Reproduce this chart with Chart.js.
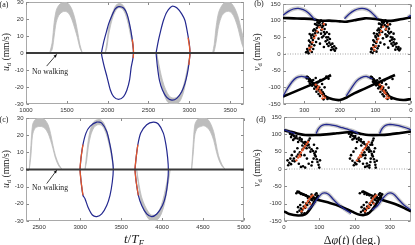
<!DOCTYPE html>
<html>
<head>
<meta charset="utf-8">
<script src="https://cdn.jsdelivr.net/npm/chart.js@4.4.0/dist/chart.umd.min.js"></script>
<style>
  html, body { margin: 0; padding: 0; background: #fff; }
  #wrap { position: relative; width: 415px; height: 245px; overflow: hidden; font-family: 'Liberation Serif', serif; color: #222; }
  #wrap canvas { position: absolute; left: 0; top: 0; }
  .lbl { position: absolute; white-space: nowrap; line-height: 1; transform: translate(-50%, -50%); }
  .rot { transform: translate(-50%, -50%) rotate(-90deg); }
  .sub { font-size: 70%; vertical-align: -0.3em; }
</style>
</head>
<body>
<div id="wrap">
  <canvas id="ca" width="415" height="245"></canvas>
  <canvas id="cb" width="415" height="245"></canvas>
  <canvas id="cc" width="415" height="245"></canvas>
  <canvas id="cd" width="415" height="245"></canvas>

  <div class="lbl" style="left:4px;top:5px;font-size:8px">(a)</div>
  <div class="lbl" style="left:259px;top:4px;font-size:8px">(b)</div>
  <div class="lbl" style="left:4px;top:120px;font-size:8px">(c)</div>
  <div class="lbl" style="left:261px;top:120px;font-size:8px">(d)</div>

  <div class="lbl rot" style="left:7px;top:52px;font-size:9.5px"><i>u</i><span class="sub">d</span> (mm/s)</div>
  <div class="lbl rot" style="left:7px;top:169px;font-size:9.5px"><i>u</i><span class="sub">d</span> (mm/s)</div>
  <div class="lbl rot" style="left:258px;top:52px;font-size:9.5px"><i>v</i><span class="sub">d</span> (mm/s)</div>
  <div class="lbl rot" style="left:258px;top:168px;font-size:9.5px"><i>v</i><span class="sub">d</span> (mm/s)</div>

  <div class="lbl" style="left:50px;top:72px;font-size:7.7px">No walking</div>
  <div class="lbl" style="left:50px;top:188px;font-size:7.7px">No walking</div>

  <div class="lbl" style="left:134px;top:240px;font-size:13px"><i>t</i>/<i>T</i><span class="sub"><i>F</i></span></div>
  <div class="lbl" style="left:352px;top:240px;font-size:12px">&Delta;<i>&phi;</i>(<i>t</i>)&thinsp;(deg.)</div>
</div>

<script>
// ================= pannello (a) : u_d contro t/T_F =================
var aRangeT = [1000, 3670];
var aTicks = [1000, 1500, 2000, 2500, 3000, 3500];
var uRange = [-30, 30];
var uTicks = [-30, -20, -10, 0, 10, 20, 30];
var aZeroT = [1000, 3670], aZeroU = [0, 0];

var aLoop1T = [1923, 1951, 1984, 2012, 2053, 2093, 2134, 2195, 2236, 2268, 2297, 2316, 2309, 2289, 2268, 2236, 2195, 2134, 2073, 2033, 1992, 1959, 1931, 1923];
var aLoop1U = [0, 6.4, 12.3, 17.1, 22, 25.9, 27.3, 26.5, 23, 17.1, 9.4, 1, -3.3, -8.2, -16, -21.8, -25.7, -27.3, -25.7, -21.8, -14, -8.2, -2.3, 0];
var aOrange1T = [2302, 2312, 2317, 2313];
var aOrange1U = [8, 4, 0, -3];

var aLoop2T = [2593, 2622, 2650, 2683, 2724, 2790, 2850, 2907, 2947, 2980, 3000, 3008, 2996, 2976, 2947, 2907, 2846, 2785, 2724, 2671, 2634, 2610, 2593];
var aLoop2U = [0, 7.4, 13.2, 19.1, 24, 27.5, 26.5, 23, 19.1, 11.3, 5.5, 0, -6.2, -12.1, -17.9, -22.8, -26.7, -27.7, -26.1, -21.8, -16, -8.2, 0];
var aOrange2T = [2985, 3002, 3008, 3001, 2994];
var aOrange2U = [9, 4, 0, -4, -7];

// bande grigie (bordo alto / bordo basso)
var aBand1T = [1290, 1320, 1345, 1370, 1400, 1440, 1480, 1520, 1560, 1600, 1630, 1660, 1690];
var aBand1Hi = [0, 6, 18, 25, 28, 29.5, 30, 29, 26, 20, 13, 5, 0];
var aBand1Lo = [0, 2, 10, 18, 22, 24, 24.5, 23.5, 20, 14, 9, 3, 0];
var aBand2T = [1970, 1990, 2010, 2040, 2070, 2100, 2130, 2160, 2190, 2220, 2250, 2280, 2300, 2315];
var aBand2Hi = [0, 6, 14, 21, 25, 28, 29, 29, 28, 25.5, 21, 14, 9, 4];
var aBand2Lo = [0, 3, 10, 17, 22, 25, 26.5, 26.5, 25.5, 22.5, 17.5, 10.5, 6, 2];
var aBand3T = [2600, 2625, 2655, 2690, 2730, 2770, 2810, 2850, 2890, 2930, 2960, 2985, 3000, 3015];
var aBand3Hi = [0, -6, -13, -19, -23.5, -26, -26.5, -26, -24, -19, -13, -7, -3, 0];
var aBand3Lo = [0, -9, -17, -24, -28.5, -30, -30, -30, -28, -23, -16, -9, -4, 0];
var aBand4T = [3285, 3305, 3330, 3360, 3400, 3440, 3480, 3520, 3560, 3600, 3640, 3670];
var aBand4Hi = [0, 5, 16, 24, 28, 30, 30, 29, 26, 21, 13, 8];
var aBand4Lo = [0, 1, 7, 16, 22, 24, 24.5, 23.5, 20, 14, 6, 2];
var aArrowT = [1253, 1376], aArrowU = [-7.7, -0.8];

// ================= pannello (c) =================
var cRangeT = [2340, 5000];
var cTicks = [2500, 3000, 3500, 4000, 4500, 5000];
var cZeroT = [2340, 5000], cZeroU = [0, 0];

var cLoop1T = [2999, 3012, 3035, 3072, 3121, 3203, 3264, 3325, 3365, 3393, 3405, 3393, 3365, 3325, 3264, 3203, 3150, 3097, 3060, 3035, 3012, 2999];
var cLoop1U = [0, 7, 14.5, 21.2, 25.1, 27.6, 27, 22.1, 14.3, 6.5, 0, -7.3, -15.1, -21, -25.9, -27.4, -26.5, -22, -17, -15, -7, 0];
var cOrange1T = [3035, 3012, 2999, 3012, 3035];
var cOrange1U = [14.5, 7, 0, -7, -15];

var cLoop2T = [3670, 3684, 3705, 3740, 3813, 3894, 3955, 4016, 4048, 4069, 4077, 4069, 4045, 4005, 3936, 3873, 3813, 3752, 3711, 3684, 3670];
var cLoop2U = [0, 7, 14.5, 21.2, 26.1, 27.6, 26.5, 21.2, 14.3, 6.5, 0, -7.3, -15.1, -21, -25.9, -27.4, -25.9, -21, -15.1, -7, 0];
var cOrange2T = [3705, 3684, 3670, 3684, 3711];
var cOrange2U = [14.5, 7, 0, -7, -15.1];

var cBand1T = [2380, 2400, 2420, 2450, 2490, 2530, 2570, 2610, 2640, 2670, 2700, 2740, 2780];
var cBand1Hi = [0, 14, 26, 29, 30, 30, 29, 26, 21, 14, 8, 3, 0];
var cBand1Lo = [0, 8, 20, 24, 25, 25, 24, 21, 17, 12, 6.5, 2, 0];
var cBand2T = [3060, 3080, 3100, 3130, 3170, 3210, 3250, 3290, 3330, 3370, 3395, 3408];
var cBand2Hi = [0, 9, 17, 24, 28, 29, 29, 27, 22, 14, 6, 0];
var cBand2Lo = [0, 5, 13, 20, 24.5, 26, 26, 24, 19, 11, 4, 0];
var cBand3T = [3690, 3720, 3750, 3790, 3830, 3870, 3910, 3950, 3990, 4030, 4060, 4085, 4100];
var cBand3Hi = [0, -9, -16, -21, -24.5, -26.5, -26.5, -25, -21, -14, -7, -2, 0];
var cBand3Lo = [0, -12, -20, -25, -28.5, -30, -30, -29, -26, -20, -12, -5, 0];
var cBand4T = [4360, 4380, 4400, 4430, 4470, 4510, 4550, 4590, 4630, 4660, 4690, 4730, 4770];
var cBand4Hi = [0, 15, 26, 29, 30, 30, 29.5, 27, 22, 15, 8, 3, 0];
var cBand4Lo = [0, 9, 20, 24, 25, 25.5, 24.5, 22, 17, 11, 6, 2, 0];
var cArrowT = [2593, 2715], cArrowU = [-8.2, -0.4];

// ================= pannelli (b) e (d) : v_d contro delta phi =================
var phiRange = [0, 360];
var phiTicks = [0, 100, 200, 300];
var vRange = [-150, 150];
var vTicks = [-150, -100, -50, 0, 50, 100, 150];
var phiZeroX = [0, 360], phiZeroY = [0, 0];

// (b) - asse x invertito
var bUpBlackX = [360, 330, 300, 275, 255, 230, 200, 180, 160, 130, 100, 75, 50, 20, 0];
var bUpBlackY = [108, 107, 106, 104, 100, 100, 98, 97, 101, 107, 105, 100, 100, 106, 110];
var bLowAX = [360, 320, 280, 250, 225];
var bLowAY = [-128, -110, -92, -78, -63];
var bLowBX = [295, 275, 258, 240, 220, 200, 180, 160, 130, 100, 70, 45];
var bLowBY = [-66, -88, -110, -128, -136, -138, -130, -118, -104, -89, -75, -63];
var bLowCX = [115, 95, 78, 60, 40, 20, 0];
var bLowCY = [-66, -88, -110, -128, -136, -138, -135];

var bBlueUp1X = [360, 345, 331, 317, 303, 289, 275, 268];
var bBlueUp1Y = [116, 128, 135, 137, 133, 124, 108, 101];
var bBlueUp2X = [187, 173, 159, 145, 131, 117, 103, 94];
var bBlueUp2Y = [106, 121, 131, 136, 136, 130, 116, 106];
var bBlueUp3X = [8, 0];
var bBlueUp3Y = [111, 116];
var bBlueLow1X = [360, 350, 335, 322, 308, 298, 288];
var bBlueLow1Y = [-128, -108, -84, -71, -67, -69, -72];
var bBlueLow2X = [182, 168, 154, 140, 126, 117, 108];
var bBlueLow2Y = [-126, -103, -82, -71, -67, -71, -74];

var bBlackDots = [
  [288, 2], [285, 12], [291, 8], [282, 20], [286, 25], [279, 30], [283, 35], [276, 42], [280, 48], [273, 52],
  [277, 58], [270, 62], [268, 70], [272, 74], [265, 78], [262, 85], [266, 88], [259, 92], [256, 97], [253, 100],
  [258, 94], [255, 86], [250, 80], [252, 72], [245, 66], [242, 60], [246, 54], [238, 50], [235, 42], [240, 38],
  [230, 34], [226, 28], [232, 24], [222, 20], [218, 14], [214, 10], [225, 12], [236, 30], [270, 90], [248, 92],
  [262, 65], [250, 50], [275, 15], [295, 5], [230, 60], [285, 60], [240, 88],
  [292, 15], [287, 40], [281, 55], [275, 70], [263, 95], [247, 85], [243, 75], [237, 65], [233, 50], [228, 45],
  [221, 31], [216, 23], [211, 17], [253, 61], [260, 46], [267, 36], [272, 26], [279, 6], [256, 31], [245, 21],
  [108, 3], [104, 10], [111, 14], [101, 22], [106, 27], [98, 33], [103, 37], [95, 44], [99, 50], [92, 55],
  [96, 60], [89, 64], [87, 71], [91, 76], [84, 80], [81, 86], [85, 89], [78, 93], [75, 98], [72, 101],
  [77, 95], [74, 87], [69, 82], [71, 73], [64, 67], [61, 62], [66, 55], [57, 51], [54, 43], [59, 39],
  [49, 35], [45, 29], [51, 25], [41, 21], [37, 15], [33, 11], [44, 13], [55, 31], [90, 91], [67, 93],
  [81, 66], [69, 52], [94, 17], [113, 6], [49, 61], [104, 62], [59, 89],
  [111, 17], [106, 41], [100, 54], [94, 71], [82, 96], [66, 84], [62, 76], [56, 66], [52, 49], [47, 44],
  [41, 32], [35, 21], [30, 16], [72, 59], [79, 47], [86, 34], [91, 24], [97, 7], [75, 29], [64, 19],
  [290, -70], [285, -75], [280, -80], [275, -78], [270, -90], [265, -95], [262, -85], [258, -100], [252, -108], [248, -115],
  [245, -120], [268, -72], [255, -78], [250, -90], [243, -100], [238, -68], [232, -74], [278, -95], [284, -88], [260, -120],
  [240, -128], [235, -135], [272, -104], [266, -113], [256, -126], [246, -136], [287, -82], [293, -73],
  [110, -70], [105, -76], [100, -81], [95, -79], [90, -91], [85, -96], [82, -86], [78, -101], [72, -109], [68, -116],
  [65, -121], [88, -73], [75, -79], [70, -91], [63, -101], [58, -69], [52, -75], [98, -94], [104, -87], [80, -121],
  [60, -129], [55, -134], [92, -103], [86, -114], [76, -127], [66, -135], [107, -83], [113, -72]
];
var bOrangeDots = [
  [283, 10], [280, 22], [277, 35], [272, 48], [268, 56], [264, 68], [258, 80], [250, 74], [245, 90], [286, 18],
  [103, 12], [99, 24], [96, 37], [92, 46], [87, 58], [84, 69], [78, 82], [70, 75], [65, 88], [106, 20],
  [268, -92], [262, -102], [257, -110], [252, -118], [247, -125], [242, -131], [255, -114], [260, -97], [265, -106], [249, -133],
  [88, -92], [82, -102], [77, -110], [72, -118], [67, -125], [62, -131], [75, -114], [80, -97], [85, -106], [69, -133]
];

// (d)
var dUpBlackX = [0, 15, 35, 60, 90, 120, 150, 180, 195, 215, 240, 270, 300, 330, 360];
var dUpBlackY = [112, 108, 103, 98, 98, 100, 103, 106, 106, 102, 98, 98, 100, 104, 108];
var dLowAX = [0, 15, 40, 60, 72, 82, 90, 97];
var dLowAY = [-122, -130, -134, -131, -118, -102, -88, -74];
var dLowBX = [35, 70, 100, 130, 160, 193, 215, 235, 250, 262, 272, 280];
var dLowBY = [-64, -80, -90, -98, -108, -123, -132, -131, -118, -100, -82, -70];
var dLowCX = [222, 260, 290, 320, 345, 360];
var dLowCY = [-64, -82, -93, -103, -115, -122];

var dBlueUp1X = [0, 15, 31];
var dBlueUp1Y = [113, 108, 102];
var dBlueUp2X = [91, 97, 105, 115, 128, 145, 165, 185, 200, 211];
var dBlueUp2Y = [102, 115, 124, 128, 128, 125, 119, 113, 108, 102];
var dBlueUp3X = [271, 277, 285, 295, 308, 325, 345, 360];
var dBlueUp3Y = [102, 115, 124, 128, 128, 125, 119, 113];
var dBlueLow1X = [68, 82, 95, 109, 125, 140, 156, 175, 190];
var dBlueLow1Y = [-118, -104, -85, -70, -72, -88, -104, -118, -128];
var dBlueLow2X = [250, 265, 280, 296, 310, 325, 340, 360];
var dBlueLow2Y = [-118, -106, -85, -70, -72, -88, -104, -118];

var dBlackDots = [
  [17, 102], [22, 98], [28, 95], [33, 90], [38, 88], [44, 84], [50, 80], [55, 76], [60, 72], [66, 68],
  [72, 62], [78, 57], [82, 52], [86, 45], [90, 36], [93, 28], [95, 20], [98, 12], [100, 4], [88, 40],
  [84, 30], [25, 102], [35, 95], [45, 90], [60, 78], [70, 70], [30, 88], [50, 86],
  [12, 11], [15, 18], [20, 14], [24, 24], [28, 30], [30, 22], [36, 36], [40, 42], [45, 48], [48, 40],
  [52, 56], [57, 62], [62, 70], [66, 76], [70, 82], [73, 88], [54, 8], [60, 4], [48, 6], [42, 15],
  [20, 92], [26, 84], [40, 78], [52, 68], [64, 60], [75, 50], [80, 20], [70, 15], [65, 30], [58, 40],
  [38, 60], [30, 50], [22, 40], [18, 30], [90, 50], [94, 60], [85, 70], [102, 25], [78, 10], [10, 25],
  [184, 102], [190, 98], [196, 95], [201, 91], [206, 87], [212, 84], [218, 80], [223, 76], [228, 72], [233, 67],
  [238, 62], [242, 56], [246, 51], [249, 44], [252, 36], [255, 28], [257, 20], [259, 12], [260, 4], [250, 40],
  [246, 30], [192, 102], [202, 95], [212, 90], [226, 78], [235, 70], [198, 88], [218, 86],
  [198, 11], [201, 18], [205, 14], [209, 24], [212, 30], [214, 22], [219, 36], [223, 42], [228, 48], [231, 40],
  [235, 56], [240, 62], [245, 70], [249, 76], [252, 82], [254, 88], [236, 8], [242, 4], [230, 6], [224, 15],
  [188, 93], [194, 85], [207, 78], [219, 68], [231, 60], [241, 50], [245, 20], [235, 16], [230, 31], [224, 40],
  [204, 60], [197, 50], [190, 40], [187, 30], [255, 50], [258, 60], [250, 70], [263, 24], [242, 11], [194, 24],
  [44, -120], [48, -114], [52, -118], [56, -108], [60, -112], [63, -100], [66, -104], [70, -94], [73, -98], [76, -88],
  [80, -90], [83, -80], [86, -84], [89, -74], [92, -70], [50, -126], [58, -128], [40, -110], [35, -70], [42, -66],
  [48, -72], [55, -74], [62, -76], [38, -124], [46, -104], [54, -96], [68, -84], [78, -74], [85, -95], [95, -82],
  [224, -120], [228, -114], [232, -118], [236, -108], [240, -112], [243, -100], [246, -104], [250, -94], [253, -98], [256, -88],
  [260, -90], [263, -80], [266, -84], [269, -74], [272, -70], [230, -126], [238, -128], [220, -110], [215, -70], [222, -66],
  [228, -72], [235, -74], [242, -76], [218, -124], [226, -104], [234, -96], [248, -84], [258, -74], [265, -95], [275, -82]
];
var dOrangeDots = [
  [35, 25], [40, 33], [44, 40], [48, 47], [52, 54], [56, 60], [60, 66], [64, 72], [68, 78], [46, 36],
  [207, 25], [212, 33], [216, 40], [220, 47], [224, 54], [229, 60], [233, 66], [236, 72], [240, 78], [218, 36],
  [50, -122], [55, -114], [59, -106], [64, -98], [68, -92], [72, -86], [77, -80], [81, -76], [62, -110], [74, -100],
  [230, -122], [235, -114], [239, -106], [244, -98], [248, -92], [252, -86], [257, -80], [261, -76], [242, -110], [254, -100]
];

// ================= colori =================
var BLUE = '#23288f';
var ORANGE = '#e4572a';
var GRAYBAND = '#bdbdbd';
var HALO = 'rgba(185,185,185,0.75)';
var ZERO = '#3a3a3a';

// ================= funzioni di supporto =================
function pts(xs, ys) {
  var out = [];
  for (var i = 0; i < xs.length; i++) {
    out.push({x: xs[i], y: ys[i]});
  }
  return out;
}
function fromPairs(list) {
  var out = [];
  for (var i = 0; i < list.length; i++) {
    out.push({x: list[i][0], y: list[i][1]});
  }
  return out;
}
function lineSet(xs, ys, color, width, order, tension) {
  return {
    data: pts(xs, ys), showLine: true, borderColor: color, borderWidth: width,
    pointRadius: 0, fill: false, tension: tension === undefined ? 0.3 : tension, order: order
  };
}
// banda: due linee, la seconda riempita fino alla precedente
function bandSets(xs, hi, lo, order) {
  return [
    {data: pts(xs, hi), showLine: true, borderColor: GRAYBAND, borderWidth: 0.8, pointRadius: 0, fill: false, tension: 0.3, order: order},
    {data: pts(xs, lo), showLine: true, borderColor: GRAYBAND, borderWidth: 0.8, pointRadius: 0, fill: '-1', backgroundColor: GRAYBAND, tension: 0.3, order: order}
  ];
}
function dotSet(list, color, r, order) {
  return {
    data: fromPairs(list), showLine: false, pointRadius: r, pointBackgroundColor: color,
    pointBorderWidth: 0, pointStyle: 'circle', order: order
  };
}

// riquadro e tacche interne stile matlab
var frameBox = {
  id: 'frameBox',
  beforeDatasetsDraw: function(chart) {
    var a = chart.chartArea, ctx = chart.ctx;
    var L = Math.round(a.left) + 0.5, T = Math.round(a.top) + 0.5;
    var R = Math.round(a.right) - 0.5, B = Math.round(a.bottom) - 0.5;
    ctx.save();
    ctx.strokeStyle = '#a9a9a9';
    ctx.lineWidth = 1;
    ctx.strokeRect(L, T, R - L, B - T);
    ctx.strokeStyle = '#8a8a8a';
    ctx.beginPath();
    chart.scales.x.ticks.forEach(function(t) {
      var px = Math.round(chart.scales.x.getPixelForValue(t.value)) + 0.5;
      ctx.moveTo(px, B); ctx.lineTo(px, B - 2.5);
      ctx.moveTo(px, T); ctx.lineTo(px, T + 2.5);
    });
    chart.scales.y.ticks.forEach(function(t) {
      var py = Math.round(chart.scales.y.getPixelForValue(t.value)) + 0.5;
      ctx.moveTo(L, py); ctx.lineTo(L + 2.5, py);
      ctx.moveTo(R, py); ctx.lineTo(R - 2.5, py);
    });
    ctx.stroke();
    ctx.restore();
  }
};

// freccia "No walking"
var arrowNote = {
  id: 'arrowNote',
  afterDatasetsDraw: function(chart, args, opts) {
    if (!opts || !opts.t) return;
    var sx = chart.scales.x, sy = chart.scales.y, ctx = chart.ctx;
    var x0 = sx.getPixelForValue(opts.t[0]), y0 = sy.getPixelForValue(opts.u[0]);
    var x1 = sx.getPixelForValue(opts.t[1]), y1 = sy.getPixelForValue(opts.u[1]);
    var ang = Math.atan2(y1 - y0, x1 - x0);
    ctx.save();
    ctx.strokeStyle = '#111';
    ctx.fillStyle = '#111';
    ctx.lineWidth = 0.8;
    ctx.beginPath();
    ctx.moveTo(x0, y0);
    ctx.lineTo(x1, y1);
    ctx.stroke();
    ctx.beginPath();
    ctx.moveTo(x1, y1);
    ctx.lineTo(x1 - 3.5 * Math.cos(ang - 0.45), y1 - 3.5 * Math.sin(ang - 0.45));
    ctx.lineTo(x1 - 3.5 * Math.cos(ang + 0.45), y1 - 3.5 * Math.sin(ang + 0.45));
    ctx.closePath();
    ctx.fill();
    ctx.restore();
  }
};

var tickFont = {family: "'Liberation Sans', Arial, sans-serif", size: 6};

function fixedTicks(values) {
  return function(s) {
    s.ticks = values.map(function(v) { return {value: v}; });
  };
}

function makeChart(id, datasets, xr, xTicks, xRev, yr, yTicks, pad, yW, arrow) {
  return new Chart(document.getElementById(id), {
    type: 'scatter',
    data: {datasets: datasets},
    options: {
      responsive: false,
      animation: false,
      devicePixelRatio: 1,
      events: [],
      layout: {padding: pad},
      plugins: {
        legend: {display: false},
        tooltip: {enabled: false},
        arrowNote: arrow || {}
      },
      scales: {
        x: {
          type: 'linear', min: xr[0], max: xr[1], reverse: xRev,
          grid: {display: false, drawTicks: false},
          border: {display: false},
          afterBuildTicks: fixedTicks(xTicks),
          ticks: {
            padding: 3, maxRotation: 0, autoSkip: false,
            font: tickFont, color: '#333',
            callback: function(v) { return String(v); }
          },
          afterFit: function(s) { s.height = 12; s.paddingLeft = 0; s.paddingRight = 0; }
        },
        y: {
          type: 'linear', min: yr[0], max: yr[1],
          grid: {display: false, drawTicks: false},
          border: {display: false},
          afterBuildTicks: fixedTicks(yTicks),
          ticks: {
            padding: 2.5, autoSkip: false,
            font: tickFont, color: '#333',
            callback: function(v) { return String(v); }
          },
          afterFit: function(s) { s.width = yW; s.paddingTop = 0; s.paddingBottom = 0; }
        }
      }
    },
    plugins: [frameBox, arrowNote]
  });
}

// ================= costruzione dataset =================
function timePanel(bands, loops, oranges, zeroT, zeroU) {
  var ds = [];
  bands.forEach(function(b) { ds = ds.concat(bandSets(b[0], b[1], b[2], 6)); });
  loops.forEach(function(l) { ds.push(lineSet(l[0], l[1], BLUE, 1.2, 3, 0.25)); });
  oranges.forEach(function(o) { ds.push(lineSet(o[0], o[1], ORANGE, 1.3, 2, 0.2)); });
  ds.push(lineSet(zeroT, zeroU, ZERO, 1.8, 1, 0));
  return ds;
}

var dsA = timePanel(
  [[aBand1T, aBand1Hi, aBand1Lo], [aBand2T, aBand2Hi, aBand2Lo], [aBand3T, aBand3Hi, aBand3Lo], [aBand4T, aBand4Hi, aBand4Lo]],
  [[aLoop1T, aLoop1U], [aLoop2T, aLoop2U]],
  [[aOrange1T, aOrange1U], [aOrange2T, aOrange2U]],
  aZeroT, aZeroU
);
var dsC = timePanel(
  [[cBand1T, cBand1Hi, cBand1Lo], [cBand2T, cBand2Hi, cBand2Lo], [cBand3T, cBand3Hi, cBand3Lo], [cBand4T, cBand4Hi, cBand4Lo]],
  [[cLoop1T, cLoop1U], [cLoop2T, cLoop2U]],
  [[cOrange1T, cOrange1U], [cOrange2T, cOrange2U]],
  cZeroT, cZeroU
);

function phasePanel(blacks, blues, blackDots, orangeDots) {
  var ds = [];
  var zero = lineSet(phiZeroX, phiZeroY, '#8c8c8c', 0.8, 9, 0);
  zero.borderDash = [1, 1.5];
  ds.push(zero);
  blues.forEach(function(b) { ds.push(lineSet(b[0], b[1], HALO, 4, 8)); });
  blacks.forEach(function(b) { ds.push(lineSet(b[0], b[1], '#000', 2.6, 6)); });
  ds.push(dotSet(blackDots, '#000', 1.3, 5));
  blues.forEach(function(b) { ds.push(lineSet(b[0], b[1], BLUE, 1.3, 4)); });
  ds.push(dotSet(orangeDots, ORANGE, 1.2, 3));
  return ds;
}

var dsB = phasePanel(
  [[bUpBlackX, bUpBlackY], [bLowAX, bLowAY], [bLowBX, bLowBY], [bLowCX, bLowCY]],
  [[bBlueUp1X, bBlueUp1Y], [bBlueUp2X, bBlueUp2Y], [bBlueUp3X, bBlueUp3Y], [bBlueLow1X, bBlueLow1Y], [bBlueLow2X, bBlueLow2Y]],
  bBlackDots, bOrangeDots
);
var dsD = phasePanel(
  [[dUpBlackX, dUpBlackY], [dLowAX, dLowAY], [dLowBX, dLowBY], [dLowCX, dLowCY]],
  [[dBlueUp1X, dBlueUp1Y], [dBlueUp2X, dBlueUp2Y], [dBlueUp3X, dBlueUp3Y], [dBlueLow1X, dBlueLow1Y], [dBlueLow2X, dBlueLow2Y]],
  dBlackDots, dOrangeDots
);

// ================= grafici =================
makeChart('ca', dsA, aRangeT, aTicks, false, uRange, uTicks, {left: 0, top: 2, right: 171, bottom: 129}, 26, {t: aArrowT, u: aArrowU});
makeChart('cc', dsC, cRangeT, cTicks, false, uRange, uTicks, {left: 0, top: 118, right: 171, bottom: 12}, 26, {t: cArrowT, u: cArrowU});
makeChart('cb', dsB, phiRange, phiTicks, true, vRange, vTicks, {left: 263, top: 2, right: 3, bottom: 129}, 20);
makeChart('cd', dsD, phiRange, phiTicks, false, vRange, vTicks, {left: 264, top: 117, right: 2, bottom: 12}, 20);
</script>
</body>
</html>
